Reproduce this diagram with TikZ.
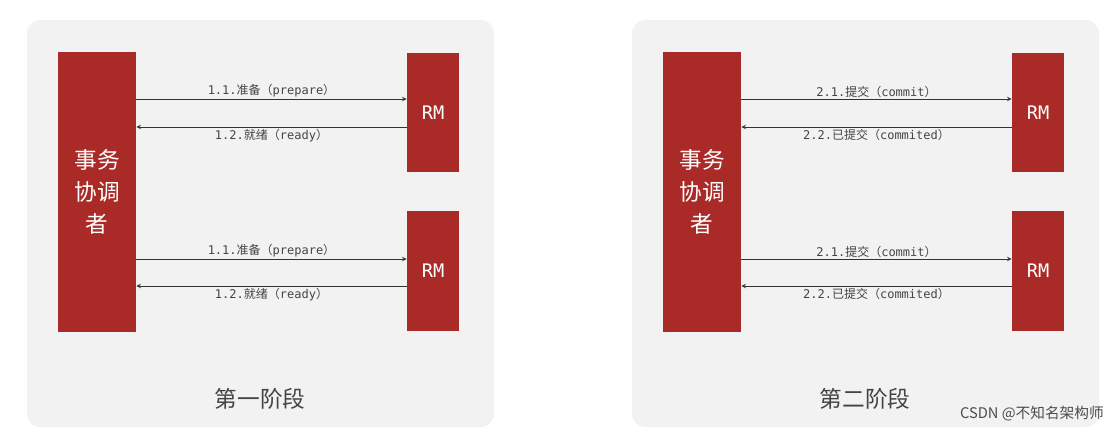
\documentclass[tikz,border=0pt]{standalone}
\usepackage{fontspec}
\setmainfont{DejaVu Sans Mono}
\newfontfamily\cjk{Noto Sans CJK SC}
\newfontfamily\wm{Noto Sans CJK SC}
\definecolor{redbox}{HTML}{A92A27}
\definecolor{panel}{HTML}{F2F2F2}
\definecolor{lbl}{HTML}{444444}
\begin{document}
\begin{tikzpicture}[x=0.75pt,y=-0.75pt,
  panelbox/.style={fill=panel,rounded corners=12pt},
  rbox/.style={fill=redbox,draw=none,text=white},
  arr/.style={-stealth,draw=black!80,line width=0.6pt},
  lab/.style={text=lbl,font=\fontsize{9}{10}\selectfont,inner sep=1pt}]
\useasboundingbox (0,0) rectangle (1118,435);
\foreach \dx/\num/\tit in {0/1/第一阶段,605/2/第二阶段}{
  \begin{scope}[xshift=\dx*0.75pt]
  \fill[panel,rounded corners=10pt] (27,20) rectangle (494,427);
  \node[text=lbl,font=\cjk\fontsize{17}{20}\selectfont] at (260,399) {\tit};
  \end{scope}}
% panel 1
\node[rbox,minimum width=58.5pt,minimum height=210pt,font=\cjk\fontsize{17}{24}\selectfont,align=center] (c1) at (97,192) {事务\\协调\\者};
\node[rbox,minimum width=39pt,minimum height=89pt,font=\fontsize{14}{16}\selectfont] (r1) at (433,112.5) {RM};
\node[rbox,minimum width=39pt,minimum height=90pt,font=\fontsize{14}{16}\selectfont] (r2) at (433,271) {RM};
\draw[arr] (c1.east|-0,99) -- (r1.west|-0,99) node[lab,midway,above] {1.1.{\cjk 准备（}prepare{\cjk ）}};
\draw[arr] (r1.west|-0,127) -- (c1.east|-0,127) node[lab,midway,below] {1.2.{\cjk 就绪（}ready{\cjk ）}};
\draw[arr] (c1.east|-0,259) -- (r2.west|-0,259) node[lab,midway,above] {1.1.{\cjk 准备（}prepare{\cjk ）}};
\draw[arr] (r2.west|-0,286) -- (c1.east|-0,286) node[lab,midway,below] {1.2.{\cjk 就绪（}ready{\cjk ）}};
% panel 2
\node[rbox,minimum width=58.5pt,minimum height=210pt,font=\cjk\fontsize{17}{24}\selectfont,align=center] (c2) at (702,192) {事务\\协调\\者};
\node[rbox,minimum width=39pt,minimum height=89pt,font=\fontsize{14}{16}\selectfont] (r3) at (1038,112.5) {RM};
\node[rbox,minimum width=39pt,minimum height=90pt,font=\fontsize{14}{16}\selectfont] (r4) at (1038,271) {RM};
\draw[arr] (c2.east|-0,99) -- (r3.west|-0,99) node[lab,midway,above] {2.1.{\cjk 提交（}commit{\cjk ）}};
\draw[arr] (r3.west|-0,127) -- (c2.east|-0,127) node[lab,midway,below] {2.2.{\cjk 已提交（}commited{\cjk ）}};
\draw[arr] (c2.east|-0,259) -- (r4.west|-0,259) node[lab,midway,above] {2.1.{\cjk 提交（}commit{\cjk ）}};
\draw[arr] (r4.west|-0,286) -- (c2.east|-0,286) node[lab,midway,below] {2.2.{\cjk 已提交（}commited{\cjk ）}};
\node[text=black!70,font=\wm\fontsize{11}{12}\selectfont,anchor=east,inner sep=0pt] (wm) at (1104,414) {CSDN @不知名架构师};
\end{tikzpicture}
\end{document}
